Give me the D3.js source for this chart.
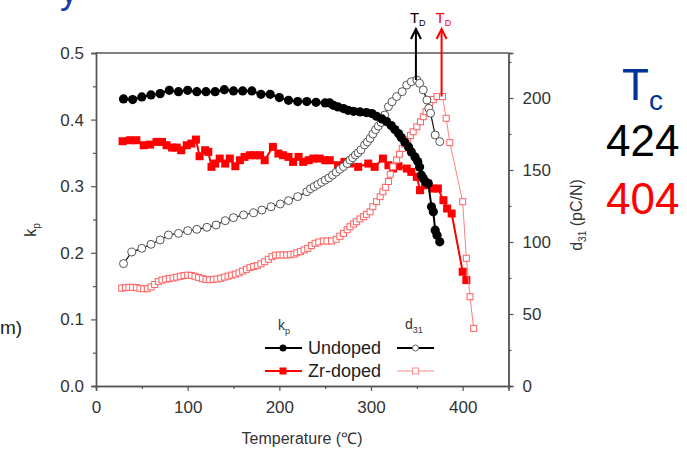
<!DOCTYPE html>
<html><head><meta charset="utf-8">
<script src="https://cdn.jsdelivr.net/npm/d3@7"></script>
<style>body{margin:0;background:#fff}svg{display:block}text{font-family:"Liberation Sans",Arial,sans-serif}</style>
</head><body><svg id="c" width="687" height="450"></svg>
<script>
// ---- data ----
const kpUndopedT = [30,40,50,60,70,80,90,100,110,120,130,140,150,160,170,180,190,200,210,220,230,240,250,255,259,264,270,275,281,288,295,301,306,312,317,322,326,330,333,337,341,344,348,351,353,355,357,360,362.5,366,368,370,372,375];
const kpUndoped  = [.431,.430,.434,.437,.439,.444,.442,.444,.442,.442,.442,.445,.443,.443,.443,.438,.438,.433,.429,.427,.427,.426,.425,.425,.4215,.419,.4165,.414,.4125,.4115,.4105,.409,.405,.401,.397,.391,.385,.379,.373,.366,.359,.3515,.344,.337,.329,.3165,.3115,.306,.304,.269,.2615,.234,.2265,.2165];
const kpZrT = [29,37,44,52,59,66,72,77,83,88,93,99,104,109,113,119,122.5,126,130,135,141,146,152,157,162,168,173,179,184,193,199,204,210,215,221,226,232,237,244,250,255,264,271,277,286,297,304,313,319,324,330,339,344,350,353.5,359,362,367.5,373,379,383,388,400,404];
const kpZr  = [.3675,.369,.369,.3615,.3625,.3665,.3665,.3615,.358,.358,.354,.3615,.364,.370,.345,.354,.3515,.329,.334,.3415,.334,.3415,.330,.339,.344,.3465,.3465,.3465,.339,.359,.349,.3465,.344,.3365,.344,.3365,.339,.3415,.3415,.339,.339,.3315,.3365,.334,.329,.334,.329,.3415,.3315,.3265,.33,.3265,.3215,.314,.294,.3015,.304,.2965,.2965,.279,.2665,.259,.1715,.159];
const d31UndopedT = [30,39,50,60,70,79,90,100,110,121,131,141,150,161,172,181,191,201,210,220,230,234,238,242,246,250,254,258,262,266,270,274,277,280,283,286,289,293,296,299,302,305,308,311,315,319,323,328,334,339,344,350,353,357,361,363,365,370,375];
const d31Undoped  = [85,93,95.6,98.4,101.4,104.9,106,107.9,108.8,110.2,111.8,114.8,116.9,118.8,120.3,122.2,124.5,126.4,128.7,131.5,134.9,137,138.5,140,141.5,143,144.5,146.5,148.5,150.5,152.3,154.5,156.9,158.5,160.4,162,164,167.4,169.5,172,175,178,180.5,183,188.2,194,197.4,201,204.4,209,211.3,212.5,210.2,205.6,198.6,192.8,189.4,174.3,169.7];
const d31ZrT = [28,32,36,40,44,48,52,56,60,64,68,72,76,80,84,88,92,96,100,104,108,112,116,120,124,128,132,136,140,144,148,152,156,160,164,168,172,176,180,184,188,192,196,200,204,208,212,216,219,223,227,231,235,239,243,248,252,257,262,266,270,274,277,281,284,288,292,295,299,302,306,310,313,316,319,321,324,328,331,334,337,340,343,346,350,354,357,360,364,368,372,378,382,386,400,404,408,412];
const d31Zr  = [68,68.3,68.5,68.5,68.3,67.8,67.5,67.6,68.8,70.5,72.5,73.6,74.2,74.6,75,75.6,76.2,76.7,77,76.8,76.2,75.3,74.5,74,73.8,74,74.3,74.8,75.6,76.3,77,77.7,78.6,79.8,81,82.2,83,83.6,84.8,86.3,88,89.8,90.8,91,91,91,91.2,91.6,92.5,93.3,94.5,95.6,97.5,99.1,100,100.7,100.7,100.7,101.9,104,106,108.5,110.6,112.5,114.1,116,117.6,119.2,121,124.5,128,131.5,134.9,138,142,147,152.3,157,161,165,168,171,174,176.6,180,183.5,187,190.5,196.3,199,201,201,185.9,169,128,88.7,62,40];
const tickX = [0,100,200,300,400];
const tickKp = [0,0.1,0.2,0.3,0.4,0.5];
const tickD31 = [0,50,100,150,200];
const tdUndoped = 349, tdZr = 377;

// ---- layout ----
const svg = d3.select("#c");
const x = d3.scaleLinear().domain([0,450]).range([96,508.5]);
const yL = d3.scaleLinear().domain([0,0.5]).range([386,53]);
const yR = d3.scaleLinear().domain([0,231.25]).range([386,53]);
const axisCol = "#555", txtCol = "#333", F = "17px";

function styleAxis(g){
  g.selectAll("path.domain").attr("stroke",axisCol).attr("stroke-width",1.4);
  g.selectAll(".tick line").attr("stroke",axisCol).attr("stroke-width",1.2);
  g.selectAll("text").attr("fill",txtCol).style("font-size",F).attr("font-family","Liberation Sans, Arial, sans-serif");
}
const minor = (g, vals, axis) => g.call(axis.tickValues(vals).tickSize(3).tickFormat(""));
svg.append("g").attr("transform","translate(0,386)").call(g=>minor(g,[50,150,250,350,450],d3.axisBottom(x))).call(styleAxis);
svg.append("g").attr("transform","translate(96,0)").call(g=>minor(g,[0.05,0.15,0.25,0.35,0.45],d3.axisLeft(yL))).call(styleAxis);
svg.append("g").attr("transform","translate(508.5,0)").call(g=>minor(g,[25,75,125,175,225],d3.axisRight(yR))).call(styleAxis);

svg.append("g").attr("transform","translate(0,386)")
  .call(d3.axisBottom(x).tickValues(tickX).tickSize(5).tickPadding(10).tickFormat(d3.format("d"))).call(styleAxis);
svg.append("g").attr("transform","translate(96,0)")
  .call(d3.axisLeft(yL).tickValues(tickKp).tickSize(5).tickPadding(7).tickFormat(d3.format(".1f"))).call(styleAxis);
svg.append("g").attr("transform","translate(508.5,0)")
  .call(d3.axisRight(yR).tickValues(tickD31).tickSize(5).tickPadding(9).tickFormat(d3.format("d"))).call(styleAxis);
svg.append("line").attr("x1",x(0)).attr("x2",x(450)).attr("y1",yL(0.5)).attr("y2",yL(0.5)).attr("stroke",axisCol).attr("stroke-width",1.4);

// axis titles
svg.append("text").attr("x",302).attr("y",444).attr("text-anchor","middle").attr("fill",txtCol).style("font-size","16px").text("Temperature (℃)");
const kl = svg.append("text").attr("transform","translate(36,230) rotate(-90)").attr("text-anchor","middle").attr("fill",txtCol).style("font-size","16px");
kl.append("tspan").text("k"); kl.append("tspan").attr("dy",4).style("font-size","10px").text("p");
const dl = svg.append("text").attr("transform","translate(582,215) rotate(-90)").attr("text-anchor","middle").attr("fill",txtCol).style("font-size","16px");
dl.append("tspan").text("d"); dl.append("tspan").attr("dy",4).style("font-size","10px").text("31"); dl.append("tspan").attr("dy",-4).text(" (pC/N)");

// ---- series ----
const lineGen = (xs, ys, yScale) => d3.line()(xs.map((t,i)=>[x(t), yScale(ys[i])]));
const plot = svg.append("g");
plot.append("path").attr("d",lineGen(kpZrT,kpZr,yL)).attr("fill","none").attr("stroke","#ff0000").attr("stroke-width",2);
plot.selectAll(".zk").data(kpZrT).join("rect").attr("x",(t)=>x(t)-4).attr("y",(t,i)=>yL(kpZr[i])-4).attr("width",8).attr("height",8).attr("fill","#ff0000");
plot.append("path").attr("d",lineGen(d31ZrT,d31Zr,yR)).attr("fill","none").attr("stroke","#ff8080").attr("stroke-width",1);
plot.selectAll(".zd").data(d31ZrT).join("rect").attr("x",(t)=>x(t)-3).attr("y",(t,i)=>yR(d31Zr[i])-3).attr("width",6).attr("height",6).attr("fill","white").attr("stroke","#ff6060").attr("stroke-width",1);
plot.append("path").attr("d",lineGen(d31UndopedT,d31Undoped,yR)).attr("fill","none").attr("stroke","#111").attr("stroke-width",1.2);
plot.selectAll(".ud").data(d31UndopedT).join("circle").attr("cx",(t)=>x(t)).attr("cy",(t,i)=>yR(d31Undoped[i])).attr("r",4).attr("fill","white").attr("stroke","#555").attr("stroke-width",1);
plot.append("path").attr("d",lineGen(kpUndopedT,kpUndoped,yL)).attr("fill","none").attr("stroke","#000").attr("stroke-width",2);
plot.selectAll(".uk").data(kpUndopedT).join("circle").attr("cx",(t)=>x(t)).attr("cy",(t,i)=>yL(kpUndoped[i])).attr("r",4.6).attr("fill","#000");

// ---- T_D arrows ----
function arrow(t, yEnd, col){
  const ax = x(t);
  svg.append("line").attr("x1",ax).attr("x2",ax).attr("y1",29).attr("y2",yEnd).attr("stroke",col).attr("stroke-width",2);
  svg.append("path").attr("d",`M${ax-5},${39} L${ax},${29} L${ax+5},${39}`).attr("fill","none").attr("stroke",col).attr("stroke-width",2);
  const tt = svg.append("text").attr("x",ax-6).attr("y",23).attr("fill",col).style("font-size","15px");
  tt.append("tspan").text("T"); tt.append("tspan").attr("dy",3).style("font-size","9px").text("D");
}
arrow(tdUndoped, yR(212.5), "#000");
arrow(tdZr, yR(201), "#ff0000");

// ---- legend ----
const lg = svg.append("g");
const kpl = lg.append("text").attr("x",278).attr("y",330).attr("fill",txtCol).style("font-size","14px");
kpl.append("tspan").text("k"); kpl.append("tspan").attr("dy",4).style("font-size","9px").text("p");
const dpl = lg.append("text").attr("x",405).attr("y",329).attr("fill",txtCol).style("font-size","14px");
dpl.append("tspan").text("d"); dpl.append("tspan").attr("dy",4).style("font-size","9px").text("31");
const rows = [{lab:"Undoped", y:348}, {lab:"Zr-doped", y:371}];
rows.forEach((r)=>{
  lg.append("text").attr("x",308).attr("y",r.y+6).attr("fill","#222").style("font-size","18px").text(r.lab);
});
lg.append("line").attr("x1",265).attr("x2",302).attr("y1",348).attr("y2",348).attr("stroke","#000").attr("stroke-width",2);
lg.append("circle").attr("cx",283).attr("cy",348).attr("r",3.5).attr("fill","#000");
lg.append("line").attr("x1",265).attr("x2",302).attr("y1",371).attr("y2",371).attr("stroke","#ff0000").attr("stroke-width",2);
lg.append("rect").attr("x",279.5).attr("y",367.5).attr("width",7).attr("height",7).attr("fill","#ff0000");
lg.append("line").attr("x1",397).attr("x2",434).attr("y1",348).attr("y2",348).attr("stroke","#000").attr("stroke-width",2);
lg.append("circle").attr("cx",415.5).attr("cy",348).attr("r",3).attr("fill","white").attr("stroke","#666");
lg.append("line").attr("x1",397).attr("x2",434).attr("y1",371).attr("y2",371).attr("stroke","#ffb0b0").attr("stroke-width",1.5);
lg.append("rect").attr("x",412.5).attr("y",368).attr("width",6).attr("height",6).attr("fill","white").attr("stroke","#ff9090");

// ---- side annotations ----
const tc = svg.append("text").attr("x",622).attr("y",100).attr("fill","#003399").style("font-size","44px");
tc.append("tspan").text("T"); tc.append("tspan").attr("dy",10).style("font-size","28px").text("c");
svg.append("text").attr("x",606).attr("y",156).attr("fill","#000").style("font-size","44px").text("424");
svg.append("text").attr("x",606).attr("y",214).attr("fill","#ff0000").style("font-size","44px").text("404");
svg.append("text").attr("x",0).attr("y",334).attr("fill","#222").style("font-size","19px").text("m)");
svg.append("text").attr("x",60).attr("y",3).attr("fill","#1a3aa8").style("font-size","36px").text("y");
</script></body></html>
